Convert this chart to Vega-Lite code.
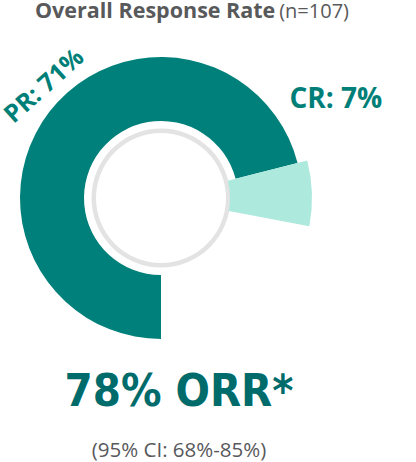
{
  "$schema": "https://vega.github.io/schema/vega-lite/v6.json",
  "padding": {"top": 0, "left": 0, "right": 0, "bottom": 0},
  "background": "white",
  "title": {
    "text": "78% ORR*",
    "subtitle": "(95% CI: 68%-85%)",
    "orient": "bottom",
    "anchor": "start",
    "frame": "group",
    "align": "center",
    "dx": 174,
    "offset": 0,
    "font": "DejaVu Sans Condensed",
    "fontSize": 45,
    "fontWeight": "bold",
    "color": "#006B6B",
    "subtitleFont": "Open Sans",
    "subtitleFontSize": 20.5,
    "subtitleFontWeight": "normal",
    "subtitleColor": "#58595B",
    "subtitlePadding": 26
  },
  "vconcat": [
    {
      "width": 312,
      "height": 344,
      "title": {
        "text": "Overall Response Rate",
        "subtitle": "\u200b\u00a0\u00a0\u00a0\u00a0\u00a0\u00a0\u00a0\u00a0\u00a0\u00a0\u00a0\u00a0\u00a0\u00a0\u00a0\u00a0\u00a0\u00a0\u00a0\u00a0\u00a0\u00a0\u00a0\u00a0\u00a0\u00a0\u00a0\u00a0\u00a0\u00a0\u00a0\u00a0\u00a0\u00a0\u00a0\u00a0\u00a0\u00a0\u00a0\u00a0\u00a0\u00a0\u00a0\u00a0\u00a0\u00a0\u00a0(n=107)",
        "orient": "top",
        "anchor": "start",
        "frame": "group",
        "dx": 30,
        "offset": 4,
        "font": "Open Sans",
        "fontSize": 21.5,
        "fontWeight": "bold",
        "color": "#58595B",
        "subtitleFont": "Open Sans",
        "subtitleFontSize": 20,
        "subtitleFontWeight": "normal",
        "subtitleColor": "#58595B",
        "subtitlePadding": -20
      },
      "layer": [
        {
          "data": {"values": [{"part": "ring"}]},
          "mark": {"type": "arc", "theta": 0, "theta2": 6.2832, "innerRadius": 65, "outerRadius": 69.5, "color": "#E3E3E3"},
          "encoding": {}
        },
        {
          "data": {"name": "resp"},
          "transform": [{"filter": "datum.category === 'PR'"}],
          "mark": {"type": "arc", "innerRadius": 77, "outerRadius": 141, "color": "#00807A"},
          "encoding": {
            "theta": {"field": "start", "type": "quantitative", "scale": {"domain": [0, 100], "range": [3.14159, 9.42478]}},
            "theta2": {"field": "end"}
          }
        },
        {
          "data": {"name": "resp"},
          "transform": [{"filter": "datum.category === 'CR'"}],
          "mark": {"type": "arc", "innerRadius": 69, "outerRadius": 151, "color": "#ADE9DD"},
          "encoding": {
            "theta": {"field": "start", "type": "quantitative", "scale": {"domain": [0, 100], "range": [3.14159, 9.42478]}},
            "theta2": {"field": "end"}
          }
        },
        {
          "data": {"name": "resp"},
          "mark": {"type": "text", "radius": {"expr": "datum.category === 'PR' ? 163 : 0"}, "angle": -42, "dx": 17, "dy": -1, "align": "center", "baseline": "middle", "font": "Open Sans", "fontSize": 25, "fontWeight": "bold", "color": "#007F78"},
          "encoding": {
            "theta": {"field": "value", "type": "quantitative", "stack": true, "scale": {"domain": [0, 100], "range": [3.14159, 9.42478]}},
            "detail": {"field": "category"},
            "order": {"field": "idx", "type": "quantitative"},
            "text": {"condition": {"test": "datum.category === 'PR'", "field": "label"}, "value": ""}
          }
        },
        {
          "data": {"name": "resp"},
          "mark": {"type": "text", "radius": {"expr": "datum.category === 'CR' ? 175 : 0"}, "dy": -93, "align": "center", "baseline": "middle", "font": "Open Sans", "fontSize": 28, "fontWeight": "bold", "color": "#007F78"},
          "encoding": {
            "theta": {"field": "value", "type": "quantitative", "stack": true, "scale": {"domain": [0, 100], "range": [3.14159, 9.42478]}},
            "detail": {"field": "category"},
            "order": {"field": "idx", "type": "quantitative"},
            "text": {"condition": {"test": "datum.category === 'CR'", "field": "label"}, "value": ""}
          }
        }
      ]
    }
  ],
  "datasets": {
    "resp": [
      {"category": "PR", "idx": 1, "value": 71, "start": 0, "end": 71, "label": "PR: 71%"},
      {"category": "CR", "idx": 2, "value": 7, "start": 71, "end": 78, "label": "CR: 7%"},
      {"category": "Non-responders", "idx": 3, "value": 22, "start": 78, "end": 100, "label": ""}
    ]
  },
  "config": {"view": {"stroke": null}, "concat": {"spacing": 0}}
}
